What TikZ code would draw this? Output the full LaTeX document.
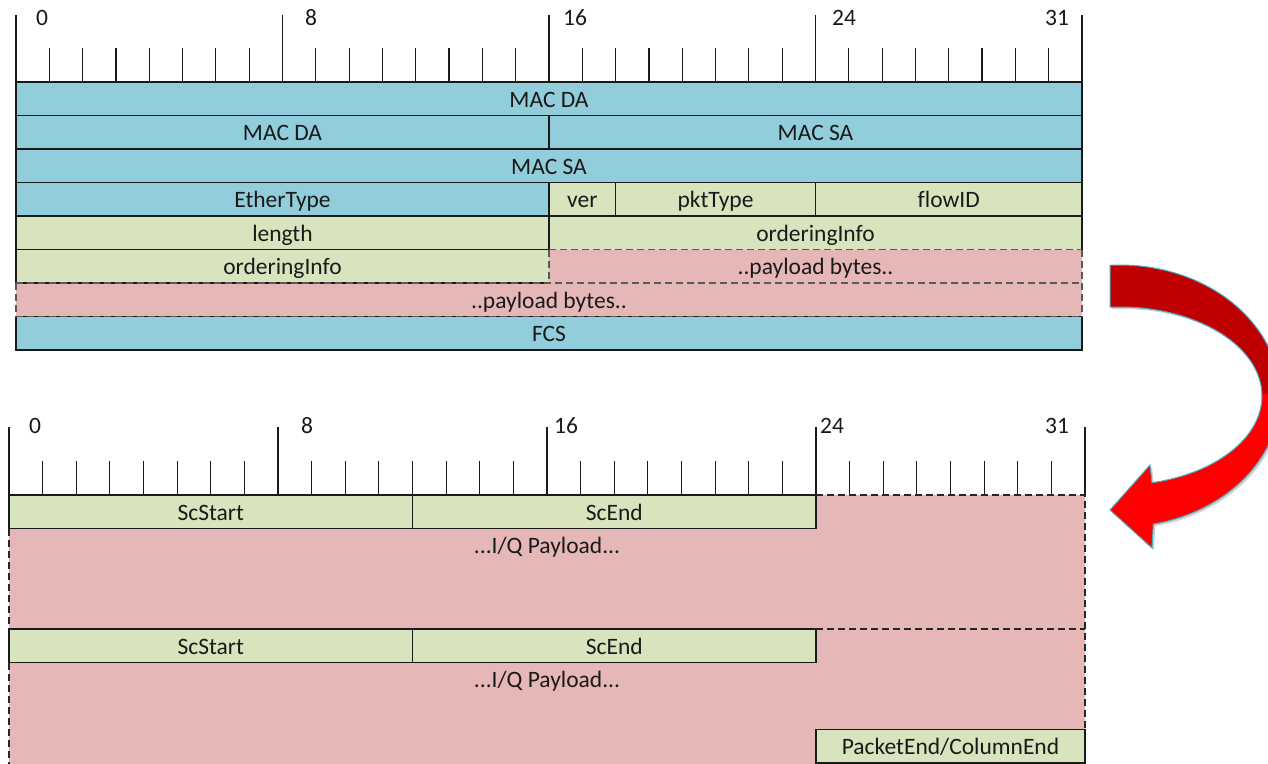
\documentclass[tikz,border=0pt]{standalone}
\usepackage{fontspec}
\setmainfont{Carlito}[Ligatures=NoCommon]
\definecolor{fblue}{HTML}{92CDDC}
\definecolor{fgreen}{HTML}{D7E4BD}
\definecolor{fpink}{HTML}{E5B8B7}
\definecolor{ln}{HTML}{1A1A1A}
\definecolor{dlgray}{HTML}{595959}
\definecolor{dlblack}{HTML}{262626}
\definecolor{txt}{HTML}{1A1A1A}
\definecolor{arrdark}{HTML}{C00000}
\definecolor{arrbright}{HTML}{FF0000}
\definecolor{arrline}{HTML}{4BACC6}
\newcommand\fs{\fontsize{23.5}{27}\selectfont}
\tikzset{
  fld/.style={draw=none, inner sep=0pt, outer sep=0pt, font=\fs, text=txt,
              text height=16.5pt, text depth=0pt, anchor=center},
  solidln/.style={draw=ln, line width=1.2pt},
  dashtop/.style={draw=dlgray, line width=1.2pt, dash pattern=on 7pt off 4pt},
  dashbot/.style={draw=dlblack, line width=1.2pt, dash pattern=on 7pt off 4pt},
  rulertick/.style={draw=ln, line width=1.2pt},
  lbl/.style={font=\fs, text=txt, inner sep=0pt, anchor=base}
}
\newcommand\fieldbox[7]{%
  \pgfmathsetmacro\fbw{#4-(#2)}\pgfmathsetmacro\fbh{#5-(#3)}%
  \pgfmathsetmacro\fbx{(#2+#4)/2}\pgfmathsetmacro\fby{(#3+#5)/2}%
  \node[fld, fill=#6, minimum width=\fbw pt, minimum height=\fbh pt] (#1) at (\fbx,\fby) {#7};}
\begin{document}
\begin{tikzpicture}[x=1pt, y=-1pt]
\useasboundingbox (0,0) rectangle (1268,763);
\begin{scope}
\clip (0,0) rectangle (1268,763);

% ================= TOP FRAME =================
\foreach \k in {0,...,32} {
  \pgfmathsetmacro\xx{16+\k*33.3125}
  \pgfmathtruncatemacro\mm{mod(\k,8)}
  \ifnum\mm=0
    \draw[rulertick] (\xx,15) -- (\xx,82);
  \else
    \draw[rulertick] (\xx,48) -- (\xx,82);
  \fi
}
\node[lbl] (t0)  at (42,25)   {0};
\node[lbl] (t8)  at (311,25)  {8};
\node[lbl] (t16) at (575,25)  {16};
\node[lbl] (t24) at (844,25)  {24};
\node[lbl] (t31) at (1057,25) {31};

\fieldbox{da1}{16}{82}{1082}{115.5}{fblue}{MAC DA}
\fieldbox{da2}{16}{115.5}{549}{149}{fblue}{MAC DA}
\fieldbox{sa1}{549}{115.5}{1082}{149}{fblue}{MAC SA}
\fieldbox{sa2}{16}{149}{1082}{182.5}{fblue}{MAC SA}
\fieldbox{eth}{16}{182.5}{549}{216}{fblue}{EtherType}
\fieldbox{ver}{549}{182.5}{615.625}{216}{fgreen}{ver}
\fieldbox{pkt}{615.625}{182.5}{815.5}{216}{fgreen}{pktType}
\fieldbox{flow}{815.5}{182.5}{1082}{216}{fgreen}{flowID}
\fieldbox{len}{16}{216}{549}{249.5}{fgreen}{length}
\fieldbox{oia}{549}{216}{1082}{249.5}{fgreen}{orderingInfo}
\fieldbox{oib}{16}{249.5}{549}{283}{fgreen}{orderingInfo}
\fieldbox{pla}{549}{249.5}{1082}{283}{fpink}{..payload bytes..}
\fieldbox{plb}{16}{283}{1082}{316.5}{fpink}{..payload bytes..}
\fieldbox{fcs}{16}{316.5}{1082}{350}{fblue}{FCS}

\draw[solidln] (oib.south west) -- (oib.south east);
\draw[solidln] (da1.north west) -- (da1.north east);
\draw[solidln] (da1.south west) -- (da1.south east);
\draw[solidln] (sa2.north west) -- (sa2.north east);
\draw[solidln] (sa2.south west) -- (sa2.south east);
\draw[solidln] (len.north west) -- (oia.north east);
\draw[solidln] (len.south west) -- (len.south east);
\draw[solidln] (da1.north west) -- (oib.south west);
\draw[solidln] (da1.north east) -- (oia.south east);
\draw[solidln] (da2.north east) -- (da2.south east);
\draw[solidln] (ver.north west) -- (len.south east);
\draw[solidln] (pkt.north west) -- (pkt.south west);
\draw[solidln] (pkt.north east) -- (pkt.south east);
\draw[solidln] (fcs.north west) rectangle (fcs.south east);
\draw[dashtop] (pla.north west) -- (pla.north east);
\draw[dashtop] (pla.north west) -- (pla.south west);
\draw[dashtop] (pla.north east) -- (plb.south east);
\draw[dashtop] (plb.north west) -- (plb.north east);
\draw[dashtop] (plb.north west) -- (plb.south west);
\draw[dashtop] (fcs.north west) -- (fcs.north east);

% ================= BOTTOM FRAME =================
\foreach \k in {0,...,32} {
  \pgfmathsetmacro\xx{9+\k*33.625}
  \pgfmathtruncatemacro\mm{mod(\k,8)}
  \ifnum\mm=0
    \draw[rulertick] (\xx,427) -- (\xx,495);
  \else
    \draw[rulertick] (\xx,461) -- (\xx,495);
  \fi
}
\node[lbl] (b0)  at (35,433)   {0};
\node[lbl] (b8)  at (307,433)  {8};
\node[lbl] (b16) at (566,433)  {16};
\node[lbl] (b24) at (832,433)  {24};
\node[lbl] (b31) at (1057,433) {31};

\fill[fpink] (816,495) -- (1085,495) -- (1085,770) -- (9,770) -- (9,528.5) -- (816,528.5) -- cycle;

\fieldbox{ssa}{9}{495}{412.5}{528.5}{fgreen}{ScStart}
\fieldbox{sea}{412.5}{495}{816}{528.5}{fgreen}{ScEnd}
\fieldbox{ssb}{9}{629}{412.5}{662.5}{fgreen}{ScStart}
\fieldbox{seb}{412.5}{629}{816}{662.5}{fgreen}{ScEnd}
\fieldbox{pe}{816}{729.5}{1085}{763}{fgreen}{PacketEnd/ColumnEnd}
\fieldbox{iqa}{9}{528.5}{1085}{562}{none}{...I/Q Payload...}
\fieldbox{iqb}{9}{662.5}{1085}{696}{none}{...I/Q Payload...}

\draw[solidln] (ssa.north west) rectangle (sea.south east);
\draw[solidln] (ssa.north east) -- (ssa.south east);
\draw[solidln] (ssb.north west) rectangle (seb.south east);
\draw[solidln] (ssb.north east) -- (ssb.south east);
\draw[solidln] (pe.north west) rectangle (pe.south east);

\draw[dashbot] (sea.north east) -- (1085,495) -- (pe.north east);
\draw[dashbot] (seb.north east) -- (seb.north east -| pe.east);
\draw[dashbot] (ssa.south west) -- (ssb.north west);
\draw[dashbot] (ssb.south west) -- (9,770);

% ================= ARROW =================
\fill[black!18] (1112,267) -- plot[domain=93.6:-78, samples=80, variable=\t] ({1122+160*cos(\t)},{398-131*sin(\t)})
   -- (1154,550) -- (1112,512) -- (1152,467)
   -- plot[domain=-77:94, samples=80, variable=\t] ({1122+142*cos(\t)},{398-89*sin(\t)}) -- cycle;
\fill[arrdark] (1110,265) -- plot[domain=93.6:-78, samples=80, variable=\t] ({1120+160*cos(\t)},{396-131*sin(\t)})
   -- (1152,548) -- (1110,510) -- (1150,465)
   -- plot[domain=-77:94, samples=80, variable=\t] ({1120+142*cos(\t)},{396-89*sin(\t)}) -- cycle;
\begin{scope}
\clip (1090,394) rectangle (1300,600);
\fill[arrbright] (1110,265) -- plot[domain=93.6:-78, samples=80, variable=\t] ({1120+160*cos(\t)},{396-131*sin(\t)})
   -- (1152,548) -- (1110,510) -- (1150,465)
   -- plot[domain=-77:94, samples=80, variable=\t] ({1120+142*cos(\t)},{396-89*sin(\t)}) -- cycle;
\end{scope}
\draw[arrline, line width=1pt, line join=miter] (1110,265) -- plot[domain=93.6:-78, samples=80, variable=\t] ({1120+160*cos(\t)},{396-131*sin(\t)})
   -- (1152,548) -- (1110,510) -- (1150,465)
   -- plot[domain=-77:94, samples=80, variable=\t] ({1120+142*cos(\t)},{396-89*sin(\t)}) -- cycle;
\end{scope}
\end{tikzpicture}
\end{document}
